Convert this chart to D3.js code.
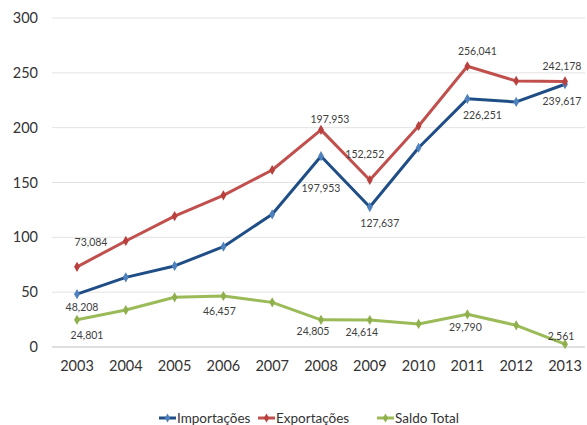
<!DOCTYPE html>
<html lang="pt">
<head>
<meta charset="UTF-8">
<title>Balança comercial</title>
<script src="https://d3js.org/d3.v7.min.js"></script>
<style>
  body { margin: 0; background: #fff; }
  text { font-family: Lato, "Open Sans", sans-serif; }
</style>
</head>
<body>
<svg width="587" height="425"></svg>
<script>
  let years = ['2003', '2004', '2005', '2006', '2007', '2008', '2009', '2010', '2011', '2012', '2013']
  let importacoes = [48.2, 63.5, 73.9, 91.5, 121, 174, 127.6, 181.7, 226.3, 223.5, 239.6]
  let exportacoes = [73.1, 96.7, 119.4, 138.3, 161.4, 198, 152.3, 201.5, 256, 242.6, 242.2]
  let saldo = [24.8, 33.7, 45.3, 46.5, 40.7, 24.8, 24.6, 21, 29.8, 19.8, 2.6]
  let yTicks = [0, 50, 100, 150, 200, 250, 300]
  let seriesNames = ['Importações', 'Exportações', 'Saldo Total']

  // labels as printed on the original chart: [series, year index, text]
  let labels = [
    [1, 0, '73,084'], [0, 0, '48,208'], [2, 0, '24,801'],
    [2, 3, '46,457'],
    [1, 5, '197,953'], [0, 5, '197,953'], [2, 5, '24,805'],
    [1, 6, '152,252'], [0, 6, '127,637'], [2, 6, '24,614'],
    [1, 8, '256,041'], [0, 8, '226,251'], [2, 8, '29,790'],
    [1, 10, '242,178'], [0, 10, '239,617'], [2, 10, '2,561']
  ]
  // where each label sits relative to its point (layout only)
  let labelNudge = [
    [14, -25], [5, 13], [10, 16],
    [-4, 15],
    [9, -11], [0, 32], [-8, 12],
    [-5, -26], [10, 16], [-8, 12],
    [10, -15], [15, 17], [-2, 13],
    [-3, -15], [-3, 17], [-4, -8]
  ]

  let colors = ['#1f4e86', '#c0504d', '#9bbb59']
  let markerColors = ['#4f81bd', '#b8403d', '#8fb04c']
  let data = [importacoes, exportacoes, saldo]

  let svg = d3.select('svg')

  let x = d3.scalePoint().domain(years).range([77, 565])
  let y = d3.scaleLinear().domain([0, 300]).range([347, 18])

  // grid lines
  svg.append('g').selectAll('line')
    .data(yTicks)
    .join('line')
    .attr('x1', 52).attr('x2', 585)
    .attr('y1', d => y(d)).attr('y2', d => y(d))
    .attr('stroke', d => d === 0 ? '#bfbfbf' : '#e3e3e3')
    .attr('stroke-width', 1)

  // y labels
  svg.append('g').selectAll('text')
    .data(yTicks)
    .join('text')
    .attr('x', 38).attr('y', d => y(d))
    .attr('dy', '0.35em')
    .attr('text-anchor', 'end')
    .attr('font-size', 14.5)
    .attr('fill', '#333')
    .text(d => d)

  // x labels
  svg.append('g').selectAll('text')
    .data(years)
    .join('text')
    .attr('x', d => x(d)).attr('y', 366)
    .attr('dy', '0.35em')
    .attr('text-anchor', 'middle')
    .attr('font-size', 14.5)
    .attr('fill', '#333')
    .text(d => d)

  let line = d3.line()
    .x((d, i) => x(years[i]))
    .y(d => y(d))

  let diamond = d3.symbol().type(d3.symbolDiamond).size(30)

  data.forEach((vals, s) => {
    let g = svg.append('g')
    g.append('path')
      .datum(vals)
      .attr('d', line)
      .attr('fill', 'none')
      .attr('stroke', colors[s])
      .attr('stroke-width', 3)
      .attr('stroke-linejoin', 'round')
    g.selectAll('path.m')
      .data(vals)
      .join('path')
      .attr('class', 'm')
      .attr('d', diamond)
      .attr('transform', (d, i) => `translate(${x(years[i])},${y(d)})`)
      .attr('fill', markerColors[s])
  })

  // data labels
  svg.append('g').selectAll('text')
    .data(labels)
    .join('text')
    .attr('x', (d, i) => x(years[d[1]]) + labelNudge[i][0])
    .attr('y', (d, i) => y(data[d[0]][d[1]]) + labelNudge[i][1])
    .attr('dy', '0.35em')
    .attr('text-anchor', 'middle')
    .attr('font-size', 10.5)
    .attr('fill', '#404040')
    .text(d => d[2])

  // legend
  let legendX = [159, 258, 377]
  let legend = svg.append('g').selectAll('g')
    .data(seriesNames)
    .join('g')
    .attr('transform', (d, i) => `translate(${legendX[i]},418)`)
  legend.append('line')
    .attr('x1', 0).attr('x2', 17)
    .attr('stroke', (d, i) => colors[i])
    .attr('stroke-width', 3)
  legend.append('path')
    .attr('d', d3.symbol().type(d3.symbolDiamond).size(24))
    .attr('transform', 'translate(8.5,0)')
    .attr('fill', (d, i) => markerColors[i])
  legend.append('text')
    .attr('x', 18).attr('dy', '0.35em')
    .attr('font-size', 13.5)
    .attr('fill', '#333')
    .text(d => d)
</script>
</body>
</html>
